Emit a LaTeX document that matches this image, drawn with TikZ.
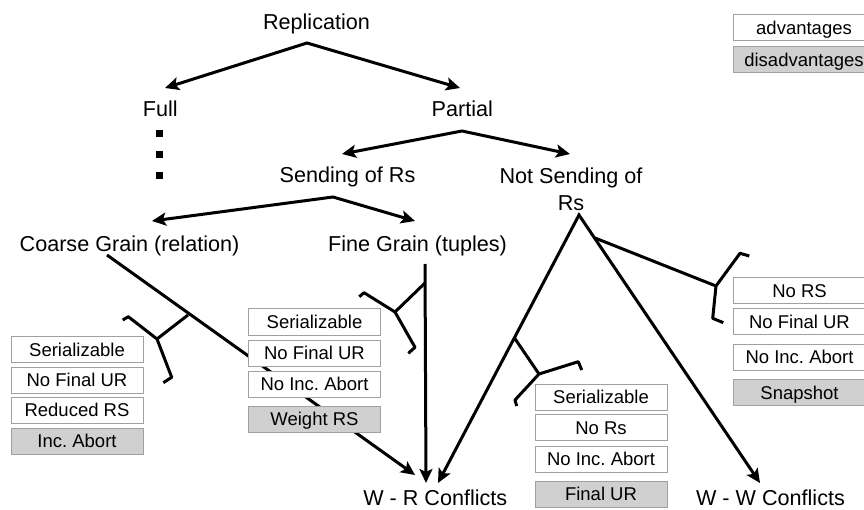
\documentclass[tikz,border=0pt]{standalone}
\usepackage{fontspec}
\setmainfont{Liberation Sans}
\usetikzlibrary{arrows.meta}
\definecolor{cellborder}{HTML}{A0A0A0}
\definecolor{cellshade}{HTML}{D0D0D0}
\frenchspacing
\begin{document}
\begin{tikzpicture}[x=1pt,y=-1pt,
  lbl/.style={font=\fontsize{21.6}{27}\selectfont, inner sep=0pt, anchor=base},
  cell/.style={draw=cellborder, fill=white, line width=1pt,
    minimum width=132pt, minimum height=26pt, inner sep=0pt,
    text height=13.2pt, text depth=0pt, font=\fontsize{18.5}{22}\selectfont},
  badcell/.style={cell, fill=cellshade},
  wire/.style={line width=3pt, line join=miter},
  arrow/.style={wire, -{Stealth[length=14pt,width=13pt,inset=3pt]}},
  fork/.style={wire, {Stealth[length=14pt,width=13pt,inset=3pt]}-{Stealth[length=14pt,width=13pt,inset=3pt]}},
  dotmark/.style={fill=black, inner sep=0pt, minimum size=7pt}]
\useasboundingbox (0,0) rectangle (864,510);

% ---- labels ----
\node[lbl] (repl) at (316.5,29.5) {Replication};
\node[lbl] (full) at (160.3,117) {Full};
\node[lbl] (partial) at (462.3,117) {Partial};
\node[lbl] (send) at (347.5,183) {Sending of Rs};
\node[lbl, align=center, anchor=north] (notsend) at (571,168) {Not Sending of\\Rs};
\node[lbl] (coarse) at (129.5,252) {Coarse Grain (relation)};
\node[lbl] (fine) at (417.5,252) {Fine Grain (tuples)};
\node[lbl] (wr) at (435.3,505.5) {W - R Conflicts};
\node[lbl] (ww) at (770.5,505.5) {W - W Conflicts};

% ---- dots below "Full" ----
\node[dotmark] (d1) at (159.5,134) {};
\node[dotmark] (d2) at (159.5,154.7) {};
\node[dotmark] (d3) at (159.5,175.5) {};

% ---- fork points and arrow ends ----
\coordinate (repl-fork) at (307,43);
\coordinate (full-in) at (165,88);
\coordinate (part-in) at (460,88);
\coordinate (part-fork) at (462,131);
\coordinate (send-in) at (342,154);
\coordinate (ns-in) at (570,154);
\coordinate (send-fork) at (333,197);
\coordinate (coarse-in) at (152,221);
\coordinate (fine-in) at (415,221);
\coordinate (coarse-out) at (107,255);
\coordinate (fine-out) at (425,264);
\coordinate (ns-fork) at (579,215);
\coordinate (wr-a) at (415,475);
\coordinate (wr-b) at (426,483);
\coordinate (wr-c) at (438,483);
\coordinate (ww-in) at (760,483);

% ---- tree arrows ----
\draw[fork] (full-in) -- (repl-fork) -- (part-in);
\draw[fork] (send-in) -- (part-fork) -- (ns-in);
\draw[fork] (coarse-in) -- (send-fork) -- (fine-in);
\draw[arrow] (coarse-out) -- (wr-a);
\draw[arrow] (fine-out) -- (wr-b);
\draw[fork] (wr-c) -- (ns-fork) -- (ww-in);

% ---- brackets on the branches ----
% coarse grain
\coordinate (cb-stem) at (188,315);
\coordinate (cb-joint) at (157,339);
\draw[wire] (cb-stem) -- (cb-joint);
\draw[wire, line join=round] (122.7,320) -- (128.3,316.7) -- (cb-joint) -- (171.7,377.3) -- (163.3,382.7);
% fine grain
\coordinate (fb-stem) at (425,283);
\coordinate (fb-joint) at (395,312);
\draw[wire] (fb-stem) -- (fb-joint);
\draw[wire, line join=round] (359.3,296.7) -- (364,292.7) -- (fb-joint) -- (415,347.3) -- (408.3,353.3);
% not sending, towards W-R
\coordinate (nb-stem) at (514.5,338);
\coordinate (nb-joint) at (539,374);
\draw[wire] (nb-stem) -- (nb-joint);
\draw[wire, line join=round] (581.7,370) -- (578.3,361.7) -- (nb-joint) -- (515,400) -- (516.7,406);
% not sending, towards W-W
\coordinate (rb-stem) at (595,238);
\coordinate (rb-joint) at (716,286);
\draw[wire] (rb-stem) -- (rb-joint);
\draw[wire, line join=round] (749.3,256) -- (740,253.3) -- (rb-joint) -- (712.7,318.3) -- (723.3,322.7);

% ---- property cells ----
\node[cell] (c1) at (77,349.5) {Serializable};
\node[cell] (c2) at (77,380) {No Final UR};
\node[cell] (c3) at (77,410) {Reduced RS};
\node[badcell] (c4) at (77,441) {Inc. Abort};

\node[cell] (f1) at (314.5,322) {Serializable};
\node[cell] (f2) at (314.5,353) {No Final UR};
\node[cell] (f3) at (314.5,384) {No Inc. Abort};
\node[badcell] (f4) at (314.5,419) {Weight RS};

\node[cell] (n1) at (601,397) {Serializable};
\node[cell] (n2) at (601,427.5) {No Rs};
\node[cell] (n3) at (601,459) {No Inc. Abort};
\node[badcell] (n4) at (601,494) {Final UR};

\node[cell] (r1) at (799.5,290.5) {No RS};
\node[cell] (r2) at (799.5,321.5) {No Final UR};
\node[cell] (r3) at (799.5,357) {No Inc. Abort};
\node[badcell] (r4) at (799.5,392.5) {Snapshot};

% ---- legend ----
\node[cell, minimum width=142pt] (adv) at (804,28) {advantages};
\node[badcell, minimum width=142pt] (disadv) at (804,59.5) {disadvantages};
\end{tikzpicture}
\end{document}
